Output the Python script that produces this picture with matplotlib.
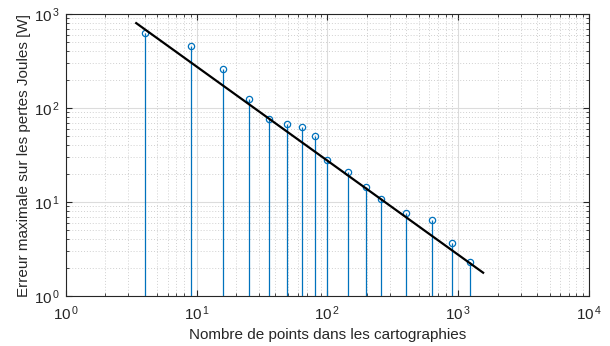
import matplotlib
matplotlib.use('Agg')
import matplotlib.pyplot as plt
from matplotlib.ticker import FuncFormatter

# Number of points in the maps vs. max error on Joule losses
n_points = [4, 9, 16, 25, 36, 49, 64, 81, 100, 144, 196, 256, 400, 625, 900, 1225]
max_error = [630, 460, 260, 124, 76, 67, 63, 50, 27.8, 20.7, 14.3, 10.7, 7.7, 6.4, 3.7, 2.3]

# fitted trend line (end points)
fit_x = [3.45, 1550]
fit_y = [800, 1.77]

plt.rcParams['font.family'] = ['Liberation Sans', 'DejaVu Sans']
plt.rcParams['mathtext.fontset'] = 'custom'
plt.rcParams['mathtext.rm'] = 'Liberation Sans'
plt.rcParams['mathtext.it'] = 'Liberation Sans'

fig = plt.figure(figsize=(6.1, 3.46), dpi=100)
ax = fig.add_axes([0.108, 0.1445, 0.8576, 0.815])

blue = '#0072BD'
markerline, stemlines, baseline = ax.stem(n_points, max_error, bottom=1)
plt.setp(stemlines, color=blue, linewidth=0.9)
plt.setp(markerline, color=blue, marker='o', markersize=4.5,
         markerfacecolor='none', markeredgewidth=0.9)
baseline.set_visible(False)

ax.plot(fit_x, fit_y, color='black', linewidth=1.6)

ax.set_xscale('log')
ax.set_yscale('log')
ax.set_xlim(1, 1e4)
ax.set_ylim(1, 1e3)

def pow_label(v, pos):
    import math
    e = int(round(math.log10(v)))
    return r'10$^{\,%d}$' % e

ax.xaxis.set_major_formatter(FuncFormatter(pow_label))
ax.yaxis.set_major_formatter(FuncFormatter(pow_label))

ax.grid(True, which='major', color='#dcdcdc', linestyle='-', linewidth=0.8)
ax.grid(True, which='minor', color='#d0d0d0', linestyle=(0, (1, 2)), linewidth=0.7)
ax.set_axisbelow(True)

ax.tick_params(which='both', direction='in', top=True, right=True,
               labelsize=11, colors='#262626')
ax.tick_params(axis='x', which='major', length=4, pad=6)
ax.tick_params(axis='y', which='major', length=4, pad=4)
ax.tick_params(which='minor', length=2)
for s in ax.spines.values():
    s.set_color('#262626')
    s.set_linewidth(0.8)

ax.set_xlabel('Nombre de points dans les cartographies', fontsize=11,
              color='#262626', labelpad=4)
ax.set_ylabel('Erreur maximale sur les pertes Joules [W]', fontsize=11,
              color='#262626', labelpad=2)

fig.savefig('out.png', dpi=100)
